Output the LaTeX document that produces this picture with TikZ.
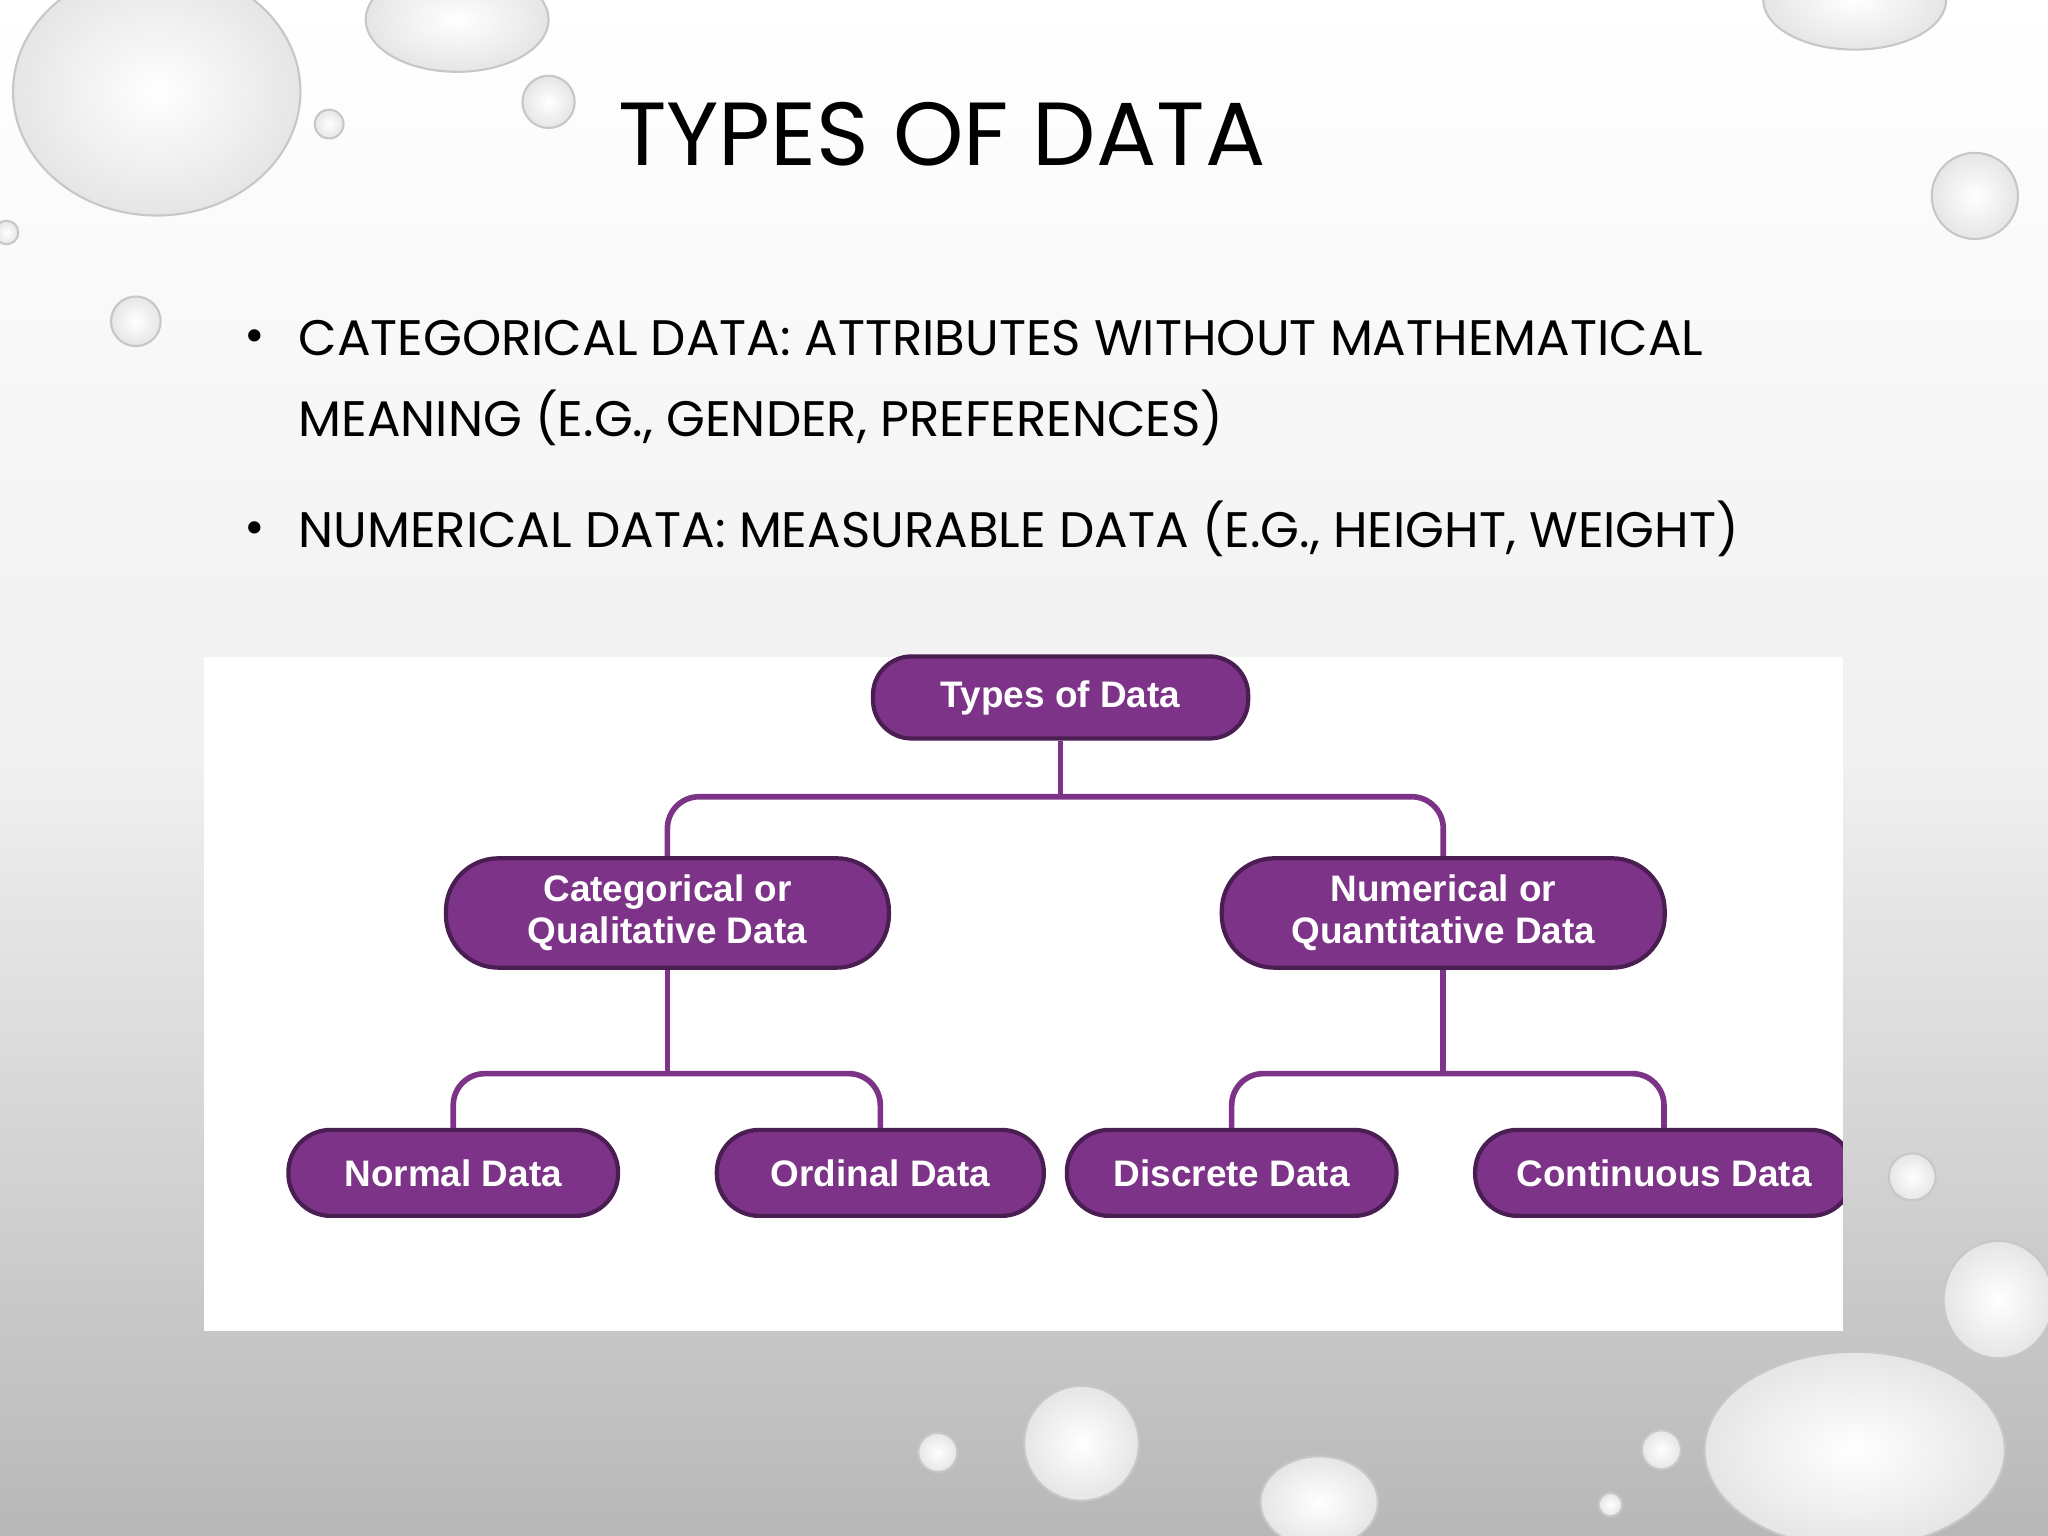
\documentclass[tikz,border=0pt]{standalone}
\usepackage{fontspec}
\setmainfont{Poppins}
\newfontfamily\arialf{Liberation Sans}
\definecolor{pur}{HTML}{7D3488}
\definecolor{purd}{HTML}{4A1E52}
\begin{document}
\begin{tikzpicture}[x=0.013061cm,y=-0.013061cm,
  pill/.style={draw=purd,line width=1.2pt,fill=pur,text=white,font=\arialf\bfseries\fontsize{10.5}{12}\selectfont,align=center,inner sep=0pt},
  conn/.style={draw=pur,line width=1.6pt,rounded corners=9pt},
  btext/.style={anchor=base west,font=\fontsize{14.2}{23}\selectfont,inner sep=0pt},
  drop/.style={draw=black!22,line width=0.6pt,inner color=white,outer color=black!10}]
\useasboundingbox (0,0) rectangle (1568,1176);
\shade[top color=white,bottom color=black!28,middle color=black!6] (0,0) rectangle (1568,1176);
% drops
\shade[drop] (120,70) ellipse (110 and 95);
\shade[drop] (350,15) ellipse (70 and 40);
\shade[drop] (420,78) circle (20);
\shade[drop] (252,95) circle (11);
\shade[drop] (104,246) circle (19);
\shade[drop] (1420,0) ellipse (70 and 38);
\shade[drop] (1512,150) circle (33);
\shade[drop] (1464,901) circle (18);
\shade[drop] (1530,995) ellipse (42 and 45);
\shade[drop] (1420,1110) ellipse (115 and 75);
\shade[drop] (828,1105) circle (44);
\shade[drop] (718,1112) circle (15);
\shade[drop] (1010,1150) ellipse (45 and 35);
\shade[drop] (1272,1110) circle (15);
\shade[drop] (1233,1152) circle (9);
\shade[drop] (5,178) circle (9);
% title and bullets
\node[font=\fontsize{25.5}{30}\selectfont,anchor=base,inner sep=0pt] (title) at (721,127) {TYPES OF DATA};
\node[btext] (d1) at (187,270) {\textbullet};
\node[btext] (b1) at (228,272) {CATEGORICAL DATA: ATTRIBUTES WITHOUT MATHEMATICAL};
\node[btext] (b1b) at (228,334) {MEANING (E.G., GENDER, PREFERENCES)};
\node[btext] (d2) at (187,417) {\textbullet};
\node[btext] (b2) at (228,419) {NUMERICAL DATA: MEASURABLE DATA (E.G., HEIGHT, WEIGHT)};
% diagram panel
\fill[white] (156,503) rectangle (1411,1019);
\node[pill,rounded corners=11pt,minimum width=288*0.3707pt,minimum height=63*0.3707pt] (top) at (812,534) {Types of Data};
\node[pill,rounded corners=15pt,minimum width=340*0.3707pt,minimum height=84*0.3707pt] (cat) at (511,699) {Categorical or\\Qualitative Data};
\node[pill,rounded corners=15pt,minimum width=340*0.3707pt,minimum height=84*0.3707pt] (num) at (1105,699) {Numerical or\\Quantitative Data};
\node[pill,rounded corners=12pt,minimum width=253*0.3707pt,minimum height=66*0.3707pt] (nor) at (347,898) {Normal Data};
\node[pill,rounded corners=12pt,minimum width=251*0.3707pt,minimum height=66*0.3707pt] (ord) at (674,898) {Ordinal Data};
\node[pill,rounded corners=12pt,minimum width=253*0.3707pt,minimum height=66*0.3707pt] (dis) at (943,898) {Discrete Data};
\begin{scope}
\clip (156,503) rectangle (1411,1019);
\node[pill,rounded corners=12pt,minimum width=290*0.3707pt,minimum height=66*0.3707pt] (con) at (1274,898) {Continuous Data};
\end{scope}
\coordinate (j1) at (812,610);
\coordinate (j2) at (511,822);
\coordinate (j3) at (1105,822);
\draw[conn] (top.south) -- (j1);
\draw[conn] (cat.north) |- (j1) -| (num.north);
\draw[conn] (cat.south) -- (j2);
\draw[conn] (nor.north) |- (j2) -| (ord.north);
\draw[conn] (num.south) -- (j3);
\draw[conn] (dis.north) |- (j3) -| (con.north);
\end{tikzpicture}
\end{document}
